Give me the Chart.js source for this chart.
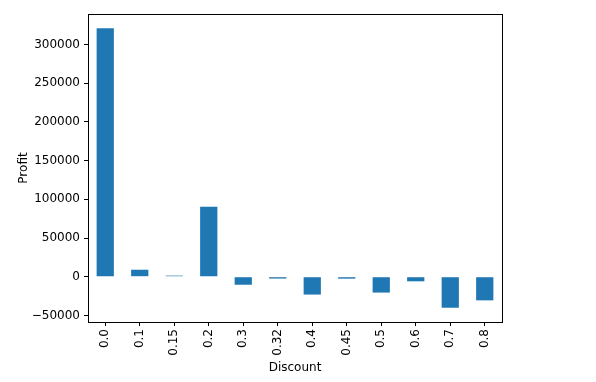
<!DOCTYPE html>
<html lang="en">
<head>
    <meta charset="UTF-8">
    <title>Profit by Discount</title>
    <style>
        html, body { margin: 0; padding: 0; background: #ffffff; }
        canvas { display: block; }
    </style>
</head>
<body>
    <canvas id="myChart" width="596" height="382"></canvas>

    <script src="https://cdn.jsdelivr.net/npm/chart.js"></script>
    <script>
        // Dados
        const discounts = ['0.0', '0.1', '0.15', '0.2', '0.3', '0.32', '0.4', '0.45', '0.5', '0.6', '0.7', '0.8'];
        const profits = [320988, 9029, 1418, 90337, -10369, -2391, -23057, -2493, -20506, -5944, -40075, -30539];
        const yTicks = [-50000, 0, 50000, 100000, 150000, 200000, 250000, 300000];

        // moldura em volta da área do gráfico
        const frame = {
            id: 'frame',
            afterDraw(chart) {
                const a = chart.chartArea;
                const c = chart.ctx;
                c.save();
                c.strokeStyle = '#000000';
                c.lineWidth = 1;
                c.strokeRect(Math.round(a.left) + 0.5, Math.round(a.top) + 0.5,
                    Math.round(a.right - a.left), Math.round(a.bottom - a.top));
                c.restore();
            }
        };

        const ctx = document.getElementById('myChart').getContext('2d');
        new Chart(ctx, {
            type: 'bar',
            data: {
                labels: discounts,
                datasets: [{
                    label: 'Profit',
                    data: profits,
                    backgroundColor: '#1f77b4',
                    borderWidth: 0,
                    barPercentage: 0.5,
                    categoryPercentage: 1.0
                }]
            },
            options: {
                responsive: false,
                animation: false,
                devicePixelRatio: 1,
                layout: { padding: { left: 0, right: 94, top: 14, bottom: 0 } },
                plugins: {
                    legend: { display: false },
                    tooltip: { enabled: false }
                },
                scales: {
                    x: {
                        offset: true,
                        grid: { display: true, offset: false, drawOnChartArea: false, drawTicks: true, tickLength: 4, color: '#000000' },
                        border: { display: false },
                        ticks: {
                            color: '#000000',
                            font: { family: 'DejaVu Sans', size: 12 },
                            minRotation: 90,
                            maxRotation: 90,
                            padding: 3,
                            autoSkip: false
                        },
                        title: {
                            display: true,
                            text: 'Discount',
                            color: '#000000',
                            font: { family: 'DejaVu Sans', size: 12 },
                            padding: { top: 0, bottom: 7 }
                        },
                        afterFit(scale) { scale.height = 60; }
                    },
                    y: {
                        min: -58500,
                        max: 339400,
                        grid: { display: true, drawOnChartArea: false, drawTicks: true, tickLength: 4, color: '#000000' },
                        border: { display: false },
                        afterBuildTicks(scale) {
                            scale.ticks = yTicks.map(v => ({ value: v }));
                        },
                        ticks: {
                            color: '#000000',
                            font: { family: 'DejaVu Sans', size: 12 },
                            padding: 4,
                            callback: v => String(v).replace('-', '\u2212')
                        },
                        title: {
                            display: true,
                            text: 'Profit',
                            color: '#000000',
                            font: { family: 'DejaVu Sans', size: 12 },
                            padding: { top: 17, bottom: 0 }
                        },
                        afterFit(scale) { scale.width = 88; }
                    }
                }
            },
            plugins: [frame]
        });
    </script>
</body>
</html>
